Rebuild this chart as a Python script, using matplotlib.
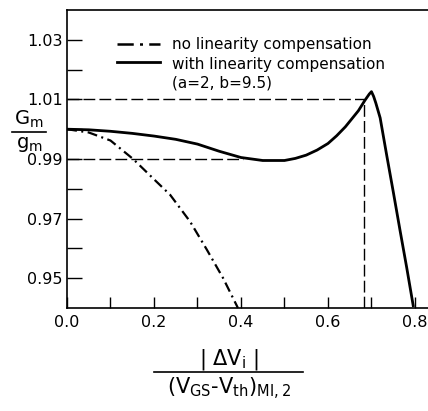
import matplotlib
matplotlib.use("Agg")
import matplotlib.pyplot as plt
from matplotlib.lines import Line2D

# ---------------- data ----------------
x_comp = [0.0, 0.05, 0.1, 0.15, 0.2, 0.25, 0.3, 0.35, 0.4, 0.45, 0.5, 0.525, 0.55,
          0.575, 0.6, 0.62, 0.64, 0.655, 0.67, 0.685, 0.695, 0.70, 0.705, 0.71,
          0.72, 0.735, 0.75, 0.766, 0.781, 0.796]
y_comp = [1.0, 0.9998, 0.9993, 0.9986, 0.9977, 0.9966, 0.9950, 0.9926, 0.9905,
          0.9895, 0.9895, 0.9902, 0.9913, 0.9930, 0.9952, 0.9978, 1.0008, 1.0035,
          1.0062, 1.0097, 1.0118, 1.0126, 1.0110, 1.0088, 1.0038, 0.9913,
          0.9791, 0.9658, 0.9536, 0.9408]

x_nocomp = [0.0, 0.05, 0.1, 0.152, 0.2, 0.237, 0.283, 0.321, 0.359, 0.393]
y_nocomp = [1.0, 0.9989, 0.9962, 0.99, 0.9832, 0.978, 0.969, 0.9597, 0.950, 0.94]

ref_hi = 1.01
ref_lo = 0.99
ref_x_hi = 0.684
ref_x_lo = 0.405

yticks_major = [0.95, 0.97, 0.99, 1.01, 1.03]
yticks_minor = [0.96, 0.98, 1.00, 1.02]
xticks_major = [0.0, 0.2, 0.4, 0.6, 0.8]
xticks_minor = [0.1, 0.3, 0.5, 0.7]

legend_labels = ["no linearity compensation", "with linearity compensation", "(a=2, b=9.5)"]

# ---------------- figure ----------------
W, H = 428, 411
fig = plt.figure(figsize=(W / 100, H / 100), dpi=100)
fig.patch.set_facecolor("white")

def fx(px):
    return px / W

def fy(py):
    return 1 - py / H

ax = fig.add_axes([fx(67), fy(308), fx(428) - fx(67), fy(10) - fy(308)])
ax.set_xlim(0, 0.83)
ax.set_ylim(0.94, 1.04)

for s in ["left", "top", "bottom"]:
    ax.spines[s].set_linewidth(1.2)
ax.spines["right"].set_visible(False)

ax.set_yticks(yticks_major)
ax.set_yticks(yticks_minor, minor=True)
ax.set_yticklabels(["%.2f" % v for v in yticks_major])
ax.set_xticks(xticks_major)
ax.set_xticks(xticks_minor, minor=True)
ax.set_xticklabels(["%.1f" % v for v in xticks_major])

ax.tick_params(axis="y", which="both", direction="in", length=11, width=1.0,
               labelsize=11.5, pad=3)
ax.tick_params(axis="x", which="both", direction="in", length=8, width=1.0,
               labelsize=11.5, pad=5)

# reference dashed lines
dash = dict(color="black", lw=1.0, dashes=(8.5, 3.0))
ax.plot([0, ref_x_hi], [ref_hi, ref_hi], **dash)
ax.plot([ref_x_hi, ref_x_hi], [0.94, ref_hi], **dash)
ax.plot([0, ref_x_lo], [ref_lo, ref_lo], **dash)

# curves
ax.plot(x_nocomp, y_nocomp, color="black", lw=1.6, dashes=(4.5, 2.0, 0.9, 2.0),
        solid_capstyle="butt", dash_capstyle="butt", clip_on=False)
ax.plot(x_comp, y_comp, color="black", lw=2.0, solid_joinstyle="round")

# legend (manual)
fig.add_artist(Line2D([fx(117), fx(160)], [fy(44), fy(44)], color="black", lw=1.8,
                      dashes=(6.5, 2.5, 1.2, 2.5)))
fig.add_artist(Line2D([fx(117), fx(160)], [fy(62), fy(62)], color="black", lw=2.0))
fig.text(fx(172), fy(44), legend_labels[0], fontsize=11, va="center", ha="left")
fig.text(fx(172), fy(64), legend_labels[1], fontsize=11, va="center", ha="left")
fig.text(fx(172), fy(83), legend_labels[2], fontsize=11, va="center", ha="left")

# y label as fraction
fig.text(fx(29), fy(119), r"G$_\mathregular{m}$", fontsize=14, ha="center", va="center")
fig.add_artist(Line2D([fx(12), fx(46)], [fy(132), fy(132)], color="black", lw=1.2))
fig.text(fx(29), fy(144), r"g$_\mathregular{m}$", fontsize=14, ha="center", va="center")

# x label as fraction
fig.text(fx(229), fy(359), r"$|$ $\Delta$V$_\mathregular{i}$ $|$", fontsize=15,
         ha="center", va="center")
fig.add_artist(Line2D([fx(154), fx(303)], [fy(371.5), fy(371.5)], color="black", lw=1.2))
fig.text(fx(229), fy(389), r"(V$_\mathregular{GS}$-V$_\mathregular{th}$)$_\mathregular{MI,2}$",
         fontsize=15, ha="center", va="center")

fig.savefig("out.png", dpi=100, facecolor="white")
